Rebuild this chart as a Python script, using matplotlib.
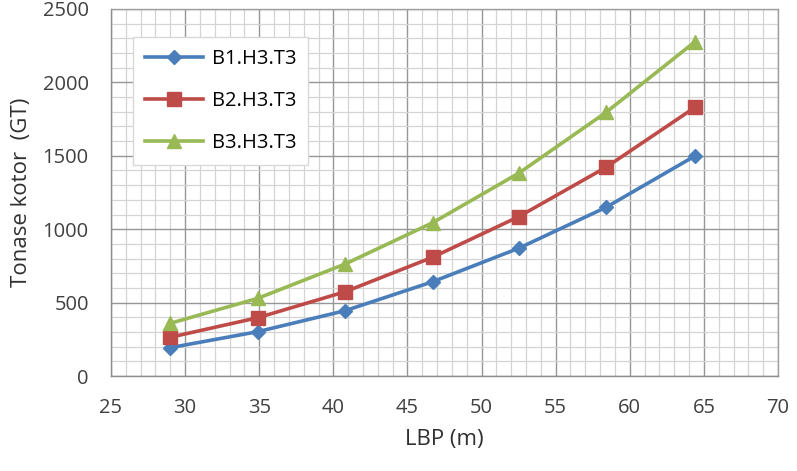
import matplotlib
matplotlib.use("Agg")
import matplotlib.pyplot as plt
from matplotlib.ticker import MultipleLocator

lbp = [29.0, 34.9, 40.8, 46.7, 52.5, 58.4, 64.4]
b1 = [193, 302, 445, 642, 870, 1149, 1499]
b2 = [264, 397, 574, 809, 1085, 1422, 1830]
b3 = [359, 529, 763, 1044, 1381, 1796, 2277]
labels = ["B1.H3.T3", "B2.H3.T3", "B3.H3.T3"]
colors = ["#4a7ebb", "#be4b48", "#98b954"]

plt.rcParams['font.family'] = ['Open Sans', 'DejaVu Sans']

fig = plt.figure(figsize=(7.97, 4.71), dpi=100)
ax = fig.add_axes([111/797, 1-376/471, (778-111)/797, (376-9)/471])

ax.plot(lbp, b1, color=colors[0], lw=2.6, marker='D', ms=7.5, label=labels[0])
ax.plot(lbp, b2, color=colors[1], lw=2.6, marker='s', ms=9.5, label=labels[1])
ax.plot(lbp, b3, color=colors[2], lw=2.6, marker='^', ms=9.5, label=labels[2])

ax.set_xlim(25, 70)
ax.set_ylim(0, 2500)
ax.xaxis.set_major_locator(MultipleLocator(5))
ax.xaxis.set_minor_locator(MultipleLocator(1))
ax.yaxis.set_major_locator(MultipleLocator(500))
ax.yaxis.set_minor_locator(MultipleLocator(100))
ax.grid(which='major', color='#969696', lw=1.0)
ax.grid(which='minor', color='#d4d4d4', lw=0.9)
ax.set_axisbelow(True)
for s in ax.spines.values():
    s.set_color('#a0a0a0')
    s.set_linewidth(1.0)
ax.spines['left'].set_color('#8c8c8c')
ax.spines['bottom'].set_color('#8c8c8c')
ax.tick_params(which='both', length=0, labelsize=14.5, colors='#404040')
ax.tick_params(axis='x', pad=16)
ax.tick_params(axis='y', pad=16)

ax.set_xlabel("LBP (m)", fontsize=16, color='#303030', labelpad=8)
ax.set_ylabel("Tonase kotor  (GT)", fontsize=16, color='#303030', labelpad=8)

leg = ax.legend(loc='upper left', bbox_to_anchor=((133-111)/667, 1-(37-9)/367),
                fontsize=14.5, handlelength=2.9, labelspacing=1.1,
                borderpad=0.6, handletextpad=0.4, frameon=True, fancybox=False,
                edgecolor='#d8d8d8', framealpha=1.0, borderaxespad=0)
leg.get_frame().set_linewidth(1.0)

fig.savefig("out.png", dpi=100)
